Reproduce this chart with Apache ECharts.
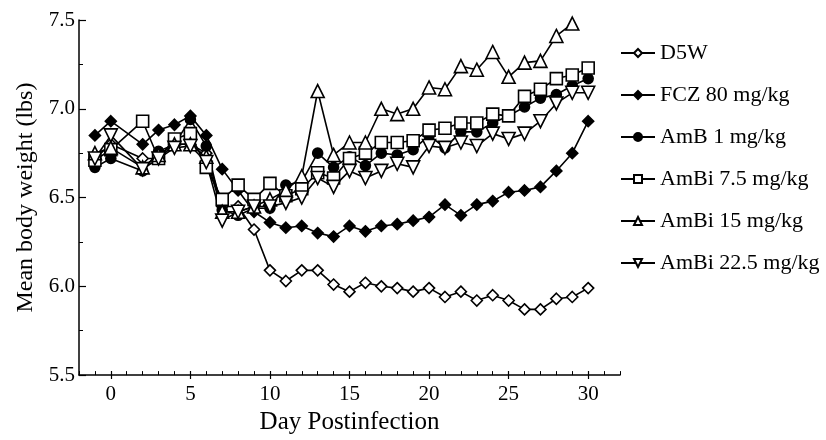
<!DOCTYPE html>
<html>
<head>
<meta charset="utf-8">
<script src="https://cdn.jsdelivr.net/npm/echarts@6/dist/echarts.min.js"></script>
<style>
html,body{margin:0;padding:0;background:#fff;}
#chart{width:826px;height:440px;}
</style>
</head>
<body>
<div id="chart"></div>
<script>
// days of measurement (no point on day 1)
var days = [-1, 0, 2, 3, 4, 5, 6, 7, 8, 9, 10, 11, 12, 13, 14, 15, 16, 17, 18, 19, 20, 21, 22, 23, 24, 25, 26, 27, 28, 29, 30];
var majorDays = [0, 5, 10, 15, 20, 25, 30];
var seriesNames = ['D5W', 'FCZ 80 mg/kg', 'AmB 1 mg/kg', 'AmBi 7.5 mg/kg', 'AmBi 15 mg/kg', 'AmBi 22.5 mg/kg'];

var d5w = [6.72, 6.80, 6.72, 6.72, 6.80, 6.80, 6.75, 6.45, 6.45, 6.32, 6.09, 6.03, 6.09, 6.09, 6.01, 5.97, 6.02, 6.00, 5.99, 5.97, 5.99, 5.94, 5.97, 5.92, 5.95, 5.92, 5.87, 5.87, 5.93, 5.94, 5.99];
var fcz80 = [6.85, 6.93, 6.80, 6.88, 6.91, 6.96, 6.85, 6.66, 6.54, 6.42, 6.36, 6.33, 6.34, 6.30, 6.28, 6.34, 6.31, 6.34, 6.35, 6.37, 6.39, 6.46, 6.40, 6.46, 6.48, 6.53, 6.54, 6.56, 6.65, 6.75, 6.93];
var amb1 = [6.67, 6.72, 6.65, 6.76, 6.80, 6.94, 6.79, 6.43, 6.40, 6.44, 6.44, 6.57, 6.59, 6.75, 6.67, 6.73, 6.68, 6.75, 6.74, 6.77, 6.85, 6.78, 6.87, 6.87, 6.92, 6.96, 7.01, 7.06, 7.08, 7.13, 7.17];
var ambi75 = [6.71, 6.77, 6.93, 6.72, 6.83, 6.86, 6.67, 6.49, 6.57, 6.49, 6.58, 6.51, 6.55, 6.64, 6.61, 6.72, 6.75, 6.81, 6.81, 6.82, 6.88, 6.89, 6.92, 6.92, 6.97, 6.96, 7.07, 7.11, 7.17, 7.19, 7.23];
var ambi15 = [6.75, 6.78, 6.67, 6.74, 6.80, 6.80, 6.73, 6.42, 6.42, 6.45, 6.49, 6.54, 6.62, 7.10, 6.74, 6.81, 6.81, 7.00, 6.97, 7.00, 7.12, 7.11, 7.24, 7.22, 7.32, 7.18, 7.26, 7.27, 7.41, 7.48, null];
var ambi225 = [6.72, 6.85, 6.66, 6.72, 6.78, 6.79, 6.70, 6.37, 6.42, 6.45, 6.45, 6.47, 6.50, 6.61, 6.56, 6.65, 6.61, 6.65, 6.69, 6.67, 6.79, 6.78, 6.81, 6.79, 6.86, 6.83, 6.86, 6.93, 7.03, 7.09, 7.09];

var font = 'Liberation Serif';

var pairs = function(vals){
    var out = [];
    for(var i=0;i<days.length;i++){
        if(vals[i] != null){
            out.push([days[i], vals[i]]);
        }
    }
    return out;
};

var mkSeries = function(name, vals, symbol, size, filled, rotate){
    return {
        name: name,
        type: 'line',
        data: pairs(vals),
        symbol: symbol,
        symbolSize: size,
        symbolRotate: rotate || 0,
        showAllSymbol: true,
        lineStyle: {color: '#000', width: 1.6},
        itemStyle: {
            color: filled ? '#000' : '#fff',
            borderColor: '#000',
            borderWidth: 1.6
        },
        emphasis: {disabled: true},
        animation: false
    };
};

var myChart = echarts.init(document.getElementById('chart'));

var option = {
    backgroundColor: '#fff',
    animation: false,
    grid: [
        {left: 79, right: 206, top: 20, bottom: 61},
        {left: 79, right: 206, top: 20, bottom: 61}
    ],
    legend: {
        orient: 'vertical',
        left: 620,
        top: 42,
        padding: 0,
        itemWidth: 34,
        itemHeight: 10,
        itemGap: 20,
        data: seriesNames,
        textStyle: {fontFamily: font, fontSize: 22, color: '#000'}
    },
    xAxis: [
        {
            type: 'value',
            gridIndex: 0,
            min: -2,
            max: 32,
            interval: 1,
            name: 'Day Postinfection',
            nameLocation: 'middle',
            nameGap: 33,
            nameTextStyle: {fontFamily: font, fontSize: 25, color: '#000'},
            axisLine: {onZero: false, lineStyle: {color: '#000', width: 1.5}},
            axisTick: {inside: true, length: 4, lineStyle: {color: '#000', width: 1}},
            axisLabel: {
                fontFamily: font, fontSize: 21, color: '#000', margin: 9,
                formatter: function(v){
                    return (v >= 0 && v <= 30 && v % 5 === 0) ? String(v) : '';
                }
            },
            splitLine: {show: false}
        },
        {
            type: 'value',
            gridIndex: 1,
            min: -2,
            max: 32,
            axisLine: {show: false, onZero: false},
            axisTick: {inside: true, length: 8, customValues: majorDays, lineStyle: {color: '#000', width: 1.2}},
            axisLabel: {show: false},
            splitLine: {show: false}
        }
    ],
    yAxis: [
        {
            type: 'value',
            gridIndex: 0,
            min: 5.5,
            max: 7.5,
            interval: 0.5,
            name: 'Mean body weight (lbs)',
            nameLocation: 'middle',
            nameGap: 37,
            nameTextStyle: {fontFamily: font, fontSize: 24, color: '#000'},
            axisLine: {show: true, onZero: false, lineStyle: {color: '#000', width: 1.5}},
            axisTick: {show: true, inside: true, length: 7, lineStyle: {color: '#000', width: 1.2}},
            minorTick: {show: true, splitNumber: 2, length: 4, lineStyle: {color: '#000', width: 1}},
            axisLabel: {
                fontFamily: font, fontSize: 21, color: '#000', margin: 4,
                formatter: function(v){ return v.toFixed(1); }
            },
            splitLine: {show: false}
        },
        {
            type: 'value',
            gridIndex: 1,
            min: 5.5,
            max: 7.5,
            show: false,
            axisLine: {onZero: false}
        }
    ],
    series: [
        mkSeries(seriesNames[0], d5w, 'diamond', 11, false),
        mkSeries(seriesNames[1], fcz80, 'diamond', 11, true),
        mkSeries(seriesNames[2], amb1, 'circle', 10, true),
        mkSeries(seriesNames[3], ambi75, 'rect', 12, false),
        mkSeries(seriesNames[4], ambi15, 'triangle', 13, false),
        mkSeries(seriesNames[5], ambi225, 'triangle', 13, false, 180)
    ]
};

myChart.setOption(option);
</script>
</body>
</html>
